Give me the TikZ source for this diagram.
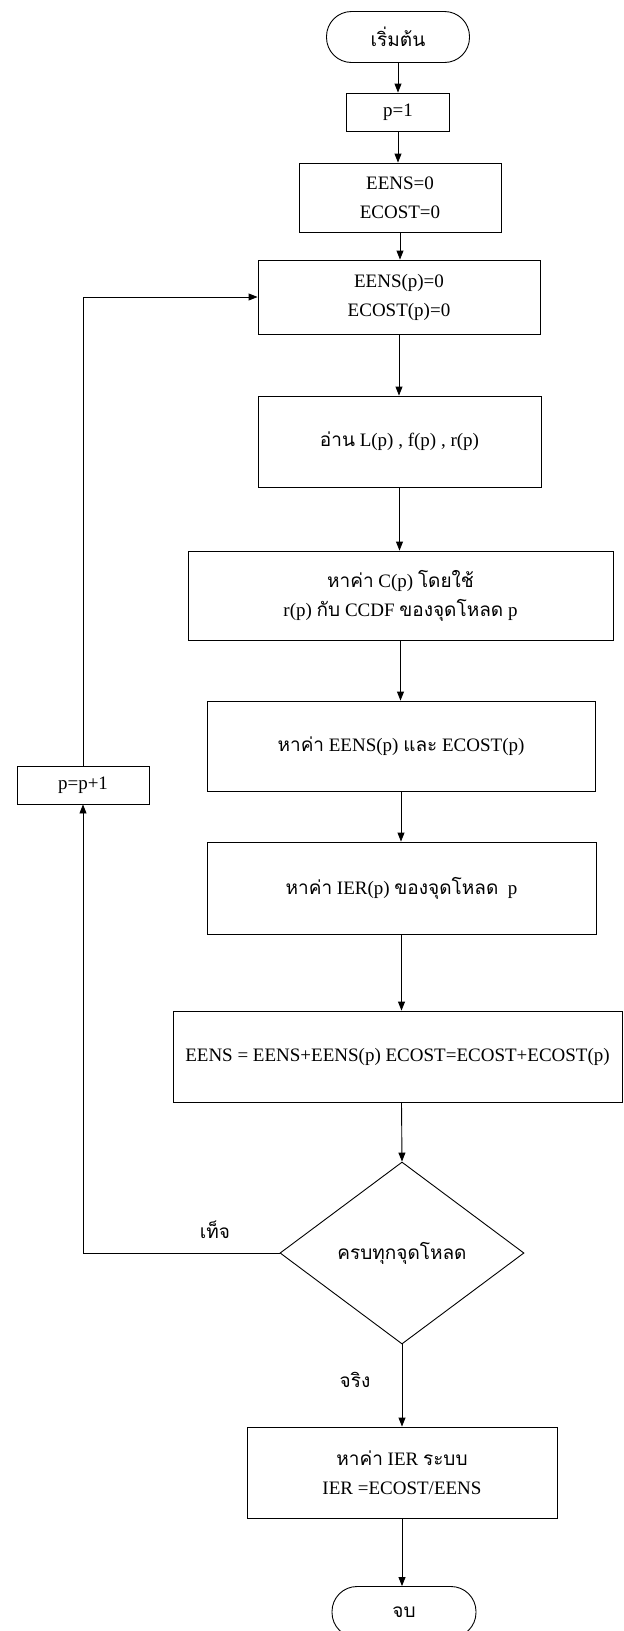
\documentclass[tikz,border=0pt]{standalone}
\usepackage{fontspec}
\setmainfont{Liberation Serif}
\newfontfamily\thai[Script=Thai]{Loma}
\usetikzlibrary{arrows.meta,shapes.geometric}
\begin{document}
\begin{tikzpicture}[x=1pt,y=-1pt,
  box/.style={draw,line width=0.9pt,inner sep=0pt,align=center,font=\fontsize{19}{29}\selectfont},
  term/.style={box,rounded corners=25pt},
  arr/.style={line width=0.9pt,-{Triangle[length=9pt,width=7pt]}},
  decision/.style={draw,line width=0.9pt,diamond,inner sep=0pt,font=\fontsize{19}{29}\selectfont},
  lbl/.style={inner sep=0pt,font=\fontsize{19}{29}\selectfont}]
\useasboundingbox (0,0) rectangle (624,1631);
\node[term,minimum width=143pt,minimum height=51pt] (start) at (398,37) {\thai เริ่มต้น};
\node[box,minimum width=103pt,minimum height=38pt] (p1) at (398,112) {p=1};
\node[box,minimum width=202pt,minimum height=69pt] (init) at (400,197.5) {EENS=0\\ECOST=0};
\node[box,minimum width=282pt,minimum height=74pt] (zero) at (399,297) {EENS(p)=0\\ECOST(p)=0};
\node[box,minimum width=283pt,minimum height=91pt] (read) at (399.5,441.5) {{\thai อ่าน} L(p) , f(p) , r(p)};
\node[box,minimum width=425pt,minimum height=89pt] (ccdf) at (400.5,595.5) {{\thai หาค่า} C(p) {\thai โดยใช้}\\r(p) {\thai กับ} CCDF {\thai ของจุดโหลด} p};
\node[box,minimum width=388pt,minimum height=90pt] (calc) at (401,746) {{\thai หาค่า} EENS(p) {\thai และ} ECOST(p)};
\node[box,minimum width=389pt,minimum height=92pt] (ier) at (401.5,888) {{\thai หาค่า} IER(p) {\thai ของจุดโหลด}\ \ p};
\node[box,minimum width=449pt,minimum height=91pt] (sum) at (397.5,1056.5) {EENS = EENS+EENS(p) ECOST=ECOST+ECOST(p)};
\node[decision,minimum width=244pt,minimum height=182pt] (dec) at (402,1253) {\thai ครบทุกจุดโหลด};
\node[box,minimum width=310pt,minimum height=91pt] (fin) at (402,1472.5) {{\thai หาค่า} IER {\thai ระบบ}\\IER =ECOST/EENS};
\node[term,minimum width=144pt,minimum height=51pt] (stop) at (404,1612) {\thai จบ};
\node[box,minimum width=132pt,minimum height=38pt] (pinc) at (83,785) {p=p+1};
\node[lbl] (no) at (215,1230) {\thai เท็จ};
\node[lbl] (yes) at (355,1380) {\thai จริง};
\draw[arr] (start.south) -- (start.south |- p1.north);
\draw[arr] (p1.south) -- (p1.south |- init.north);
\draw[arr] (init.south) -- (init.south |- zero.north);
\draw[arr] (zero.south) -- (zero.south |- read.north);
\draw[arr] (read.south) -- (read.south |- ccdf.north);
\draw[arr] (ccdf.south) -- (ccdf.south |- calc.north);
\draw[arr] (calc.south) -- (calc.south |- ier.north);
\draw[arr] (ier.south) -- (ier.south |- sum.north);
\draw[arr] (ier.south |- sum.south) -- (dec.north);
\draw[arr] (dec.south) -- (fin.north);
\draw[arr] (fin.south) -- (fin.south |- stop.north);
\draw[arr] (dec.west) -| (pinc.south);
\draw[arr] (pinc.north) |- (zero.west);
\end{tikzpicture}
\end{document}
